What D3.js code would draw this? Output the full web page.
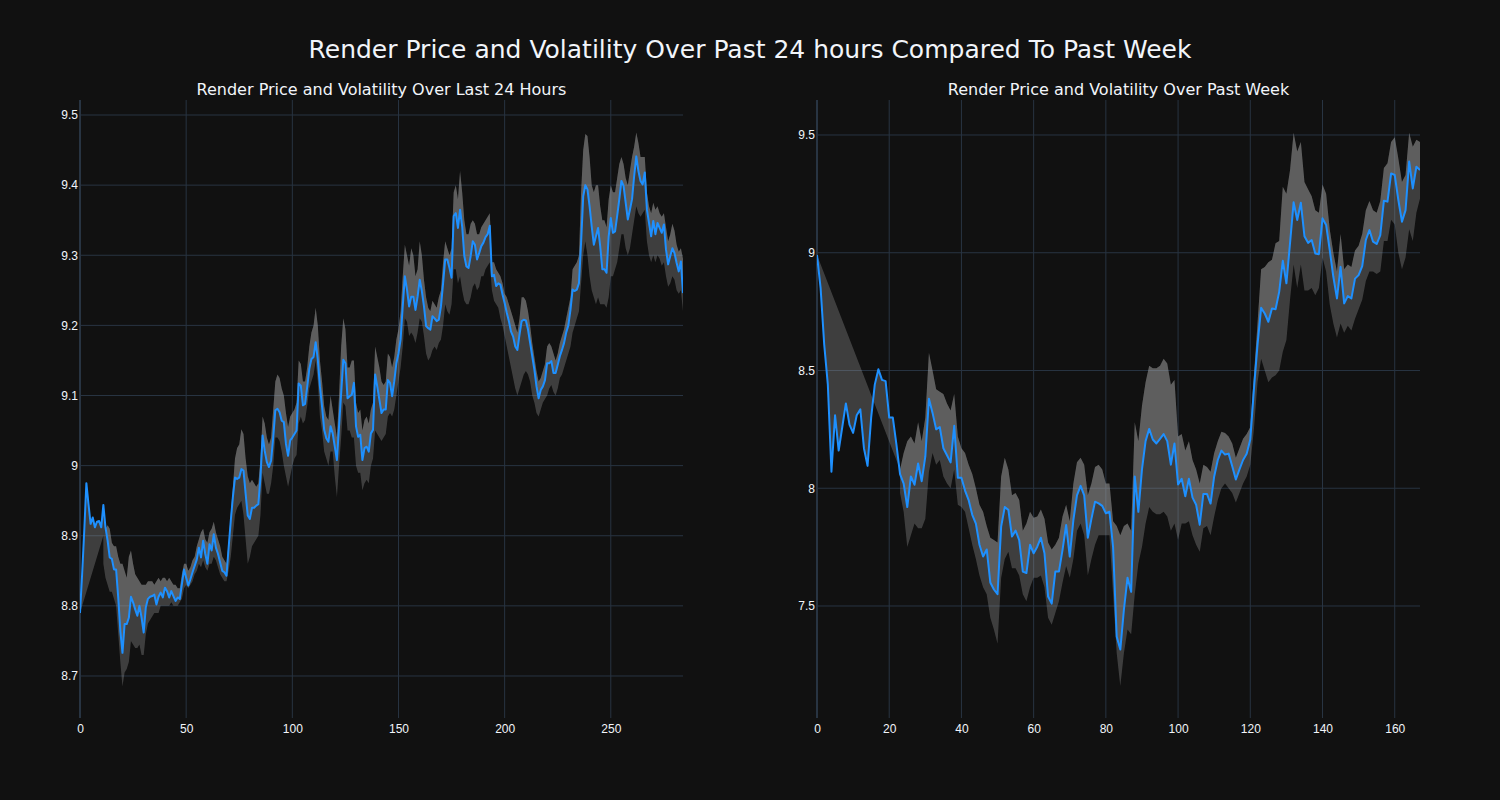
<!DOCTYPE html>
<html lang="en">
<head>
<meta charset="UTF-8">
<title>Render Price and Volatility</title>
<script src="https://d3js.org/d3.v7.min.js"></script>
<style>
    html, body { margin: 0; padding: 0; background: #111111; }
    svg { display: block; font-family: "DejaVu Sans", sans-serif; }
    .tick text { fill: #f2f5fa; font-size: 12px; }
</style>
</head>
<body>
<svg id="chart" width="1500" height="800"></svg>
<script>
// last 24 hours, 5 minute steps
const dayPrice = [
    8.79, 8.845, 8.907, 8.975, 8.945, 8.917, 8.926, 8.912, 8.92, 8.921,
    8.912, 8.944, 8.912, 8.893, 8.869, 8.867, 8.852, 8.852, 8.812, 8.764,
    8.733, 8.774, 8.774, 8.783, 8.813, 8.805, 8.795, 8.786, 8.8, 8.783,
    8.762, 8.798, 8.81, 8.813, 8.814, 8.816, 8.802, 8.813, 8.819, 8.812,
    8.826, 8.821, 8.812, 8.821, 8.814, 8.807, 8.812, 8.81, 8.831, 8.852,
    8.84, 8.829, 8.838, 8.848, 8.857, 8.866, 8.883, 8.869, 8.893, 8.874,
    8.86, 8.888, 8.879, 8.902, 8.883, 8.874, 8.862, 8.85, 8.848, 8.843,
    8.883, 8.921, 8.955, 8.983, 8.981, 8.983, 8.995, 8.993, 8.96, 8.929,
    8.924, 8.94, 8.94, 8.943, 8.945, 8.983, 9.043, 9.021, 9.005, 8.998,
    9.007, 9.04, 9.079, 9.081, 9.076, 9.064, 9.062, 9.031, 9.014, 9.036,
    9.04, 9.045, 9.05, 9.117, 9.114, 9.086, 9.088, 9.112, 9.138, 9.152,
    9.155, 9.176, 9.151, 9.113, 9.084, 9.051, 9.039, 9.034, 9.056, 9.046,
    9.027, 9.008, 9.056, 9.103, 9.151, 9.146, 9.096, 9.099, 9.101, 9.118,
    9.056, 9.041, 9.044, 9.008, 9.025, 9.027, 9.02, 9.046, 9.051, 9.13,
    9.113, 9.094, 9.075, 9.08, 9.08, 9.122, 9.118, 9.099, 9.12, 9.146,
    9.16, 9.18, 9.227, 9.27, 9.251, 9.227, 9.241, 9.241, 9.222, 9.241,
    9.265, 9.249, 9.227, 9.199, 9.196, 9.194, 9.213, 9.21, 9.206, 9.208,
    9.227, 9.26, 9.294, 9.294, 9.282, 9.268, 9.356, 9.36, 9.339, 9.365,
    9.341, 9.299, 9.284, 9.282, 9.299, 9.32, 9.315, 9.294, 9.303, 9.313,
    9.318, 9.326, 9.33, 9.342, 9.27, 9.272, 9.256, 9.26, 9.258, 9.244,
    9.232, 9.218, 9.206, 9.191, 9.184, 9.17, 9.165, 9.187, 9.206, 9.208,
    9.207, 9.194, 9.175, 9.156, 9.137, 9.113, 9.096, 9.108, 9.113, 9.122,
    9.146, 9.146, 9.149, 9.132, 9.132, 9.144, 9.156, 9.165, 9.175, 9.19,
    9.2, 9.222, 9.251, 9.249, 9.251, 9.26, 9.318, 9.384, 9.4, 9.394,
    9.37, 9.341, 9.315, 9.327, 9.339, 9.313, 9.28, 9.28, 9.275, 9.327,
    9.353, 9.332, 9.334, 9.356, 9.38, 9.406, 9.399, 9.375, 9.351, 9.365,
    9.38, 9.413, 9.441, 9.42, 9.406, 9.401, 9.418, 9.365, 9.346, 9.327,
    9.349, 9.33, 9.346, 9.339, 9.332, 9.344, 9.308, 9.287, 9.299, 9.31,
    9.303, 9.289, 9.277, 9.291, 9.246
];
const dayUpper = [
    null, null, null, null, null, null, null, null, null, null,
    null, 8.90, 8.91, 8.915, 8.91, 8.89, 8.885, 8.885, 8.87, 8.86,
    8.86, 8.85, 8.84, 8.87, 8.879, 8.86, 8.845, 8.84, 8.835, 8.83,
    8.83, 8.83, 8.835, 8.835, 8.835, 8.83, 8.835, 8.84, 8.835, 8.84,
    8.84, 8.835, 8.84, 8.835, 8.83, 8.83, 8.825, 8.825, 8.845, 8.86,
    8.86, 8.85, 8.855, 8.865, 8.87, 8.885, 8.895, 8.905, 8.91, 8.895,
    8.89, 8.905, 8.91, 8.92, 8.905, 8.895, 8.885, 8.87, 8.865, 8.86,
    8.89, 8.93, 8.97, 9.01, 9.025, 9.03, 9.052, 9.045, 9.01, 8.985,
    8.975, 8.98, 8.975, 8.97, 8.975, 9.01, 9.07, 9.06, 9.04, 9.03,
    9.04, 9.08, 9.12, 9.13, 9.125, 9.11, 9.10, 9.075, 9.055, 9.07,
    9.075, 9.08, 9.09, 9.15, 9.145, 9.12, 9.12, 9.14, 9.17, 9.19,
    9.2, 9.225, 9.2, 9.15, 9.12, 9.085, 9.07, 9.065, 9.10, 9.08,
    9.06, 9.04, 9.10, 9.17, 9.21, 9.195, 9.14, 9.14, 9.15, 9.15,
    9.09, 9.075, 9.08, 9.05, 9.065, 9.07, 9.06, 9.08, 9.09, 9.17,
    9.155, 9.14, 9.12, 9.115, 9.12, 9.16, 9.155, 9.14, 9.155, 9.18,
    9.195, 9.22, 9.27, 9.315, 9.30, 9.285, 9.31, 9.30, 9.27, 9.28,
    9.32, 9.30, 9.265, 9.24, 9.225, 9.22, 9.235, 9.23, 9.225, 9.24,
    9.25, 9.29, 9.32, 9.31, 9.30, 9.31, 9.39, 9.40, 9.38, 9.42,
    9.39, 9.35, 9.33, 9.33, 9.345, 9.35, 9.345, 9.33, 9.33, 9.34,
    9.345, 9.35, 9.355, 9.36, 9.29, 9.29, 9.28, 9.275, 9.27, 9.26,
    9.245, 9.24, 9.23, 9.22, 9.21, 9.20, 9.19, 9.21, 9.24, 9.24,
    9.235, 9.22, 9.20, 9.175, 9.155, 9.135, 9.12, 9.125, 9.135, 9.145,
    9.17, 9.175, 9.17, 9.16, 9.15, 9.16, 9.175, 9.185, 9.195, 9.21,
    9.225, 9.24, 9.28, 9.285, 9.29, 9.30, 9.39, 9.45, 9.473, 9.47,
    9.44, 9.40, 9.39, 9.40, 9.40, 9.37, 9.35, 9.35, 9.34, 9.38,
    9.40, 9.39, 9.39, 9.41, 9.43, 9.44, 9.43, 9.41, 9.40, 9.42,
    9.44, 9.455, 9.475, 9.46, 9.44, 9.44, 9.44, 9.39, 9.37, 9.36,
    9.375, 9.365, 9.37, 9.36, 9.355, 9.36, 9.34, 9.32, 9.33, 9.345,
    9.335, 9.315, 9.305, 9.31, 9.295
];
const dayLower = [
    null, null, null, null, null, null, null, null, null, null,
    null, 8.86, 8.84, 8.83, 8.82, 8.82, 8.81, 8.80, 8.76, 8.72,
    8.685, 8.705, 8.71, 8.72, 8.75, 8.745, 8.74, 8.74, 8.745, 8.73,
    8.73, 8.76, 8.775, 8.78, 8.785, 8.79, 8.79, 8.79, 8.80, 8.80,
    8.80, 8.80, 8.80, 8.805, 8.80, 8.80, 8.80, 8.805, 8.81, 8.825,
    8.83, 8.825, 8.83, 8.835, 8.845, 8.85, 8.86, 8.855, 8.865, 8.855,
    8.85, 8.86, 8.86, 8.87, 8.865, 8.855, 8.845, 8.84, 8.835, 8.835,
    8.85, 8.87, 8.90, 8.93, 8.94, 8.945, 8.95, 8.93, 8.895, 8.86,
    8.87, 8.885, 8.89, 8.895, 8.90, 8.93, 8.99, 8.975, 8.96, 8.96,
    8.975, 9.00, 9.04, 9.04, 9.035, 9.02, 9.00, 8.985, 8.97, 8.985,
    9.0, 9.01, 9.015, 9.06, 9.07, 9.06, 9.065, 9.085, 9.11, 9.12,
    9.13, 9.15, 9.12, 9.07, 9.05, 9.02, 9.01, 9.0, 9.02, 9.02,
    8.985, 8.955, 9.0, 9.04, 9.09, 9.085, 9.05, 9.05, 9.04, 9.04,
    9.0, 8.99, 8.99, 8.965, 8.975, 8.98, 8.975, 9.0, 9.01, 9.05,
    9.045, 9.04, 9.035, 9.04, 9.045, 9.07, 9.075, 9.07, 9.08, 9.10,
    9.12, 9.14, 9.17, 9.21, 9.205, 9.185, 9.19, 9.185, 9.175, 9.19,
    9.21, 9.205, 9.185, 9.16, 9.15, 9.155, 9.165, 9.17, 9.165, 9.175,
    9.18, 9.20, 9.23, 9.22, 9.215, 9.23, 9.28, 9.28, 9.26, 9.27,
    9.25, 9.235, 9.23, 9.23, 9.24, 9.255, 9.26, 9.25, 9.255, 9.27,
    9.27, 9.28, 9.285, 9.29, 9.25, 9.235, 9.23, 9.225, 9.21, 9.20,
    9.185, 9.17, 9.155, 9.14, 9.125, 9.11, 9.10, 9.11, 9.12, 9.13,
    9.135, 9.13, 9.12, 9.10, 9.09, 9.075, 9.07, 9.08, 9.09, 9.095,
    9.10, 9.11, 9.115, 9.105, 9.10, 9.11, 9.125, 9.13, 9.14, 9.15,
    9.16, 9.17, 9.19, 9.20, 9.21, 9.22, 9.26, 9.30, 9.32, 9.30,
    9.27, 9.25, 9.24, 9.23, 9.24, 9.23, 9.23, 9.23, 9.225, 9.24,
    9.27, 9.27, 9.28, 9.29, 9.31, 9.33, 9.33, 9.31, 9.30, 9.31,
    9.33, 9.35, 9.37, 9.36, 9.355, 9.36, 9.365, 9.32, 9.30, 9.29,
    9.30, 9.29, 9.30, 9.295, 9.285, 9.29, 9.27, 9.255, 9.26, 9.27,
    9.265, 9.25, 9.245, 9.25, 9.22
];

// past week, hourly
const weekPrice = [
    8.99, 8.85, 8.61, 8.44, 8.07, 8.31, 8.16, 8.26, 8.36, 8.27,
    8.235, 8.31, 8.335, 8.17, 8.095, 8.30, 8.44, 8.505, 8.46, 8.455,
    8.30, 8.30, 8.185, 8.06, 8.02, 7.92, 8.05, 8.015, 8.105, 8.03,
    8.135, 8.38, 8.32, 8.25, 8.26, 8.17, 8.14, 8.11, 8.265, 8.045,
    8.045, 7.99, 7.95, 7.887, 7.85, 7.76, 7.71, 7.74, 7.60, 7.57,
    7.55, 7.837, 7.92, 7.908, 7.795, 7.82, 7.78, 7.646, 7.64, 7.76,
    7.724, 7.752, 7.79, 7.724, 7.54, 7.51, 7.646, 7.646, 7.738, 7.844,
    7.71, 7.865, 7.97, 8.01, 7.97, 7.79, 7.87, 7.943, 7.936, 7.925,
    7.894, 7.90, 7.75, 7.37, 7.315, 7.485, 7.62, 7.56, 8.05, 7.90,
    8.08, 8.20, 8.252, 8.207, 8.19, 8.21, 8.23, 8.20, 8.10, 8.19,
    8.016, 8.04, 7.966, 8.04, 7.96, 7.93, 7.845, 7.976, 7.976, 7.935,
    8.05, 8.12, 8.16, 8.143, 8.147, 8.093, 8.037, 8.08, 8.12, 8.146,
    8.207, 8.42, 8.61, 8.766, 8.742, 8.707, 8.763, 8.76, 8.834, 8.966,
    8.87, 9.04, 9.214, 9.139, 9.212, 9.07, 9.042, 9.054, 8.997, 8.994,
    9.146, 9.118, 9.011, 8.898, 8.806, 8.94, 8.785, 8.816, 8.806, 8.89,
    8.905, 8.943, 9.054, 9.096, 9.047, 9.037, 9.075, 9.221, 9.217, 9.337,
    9.33, 9.224, 9.132, 9.181, 9.387, 9.273, 9.365, 9.351
];
const weekUpper = [
    null, null, null, null, null, null, null, null, null, null,
    null, null, null, null, null, null, null, null, null, null,
    null, null, null, 8.08, 8.15, 8.20, 8.22, 8.19, 8.28, 8.20,
    8.30, 8.575, 8.50, 8.42, 8.41, 8.40, 8.36, 8.33, 8.40, 8.22,
    8.17, 8.15, 8.10, 8.06, 8.00, 7.93, 7.90, 7.84, 7.79, 7.78,
    7.77, 8.05, 8.13, 8.08, 7.97, 7.98, 7.95, 7.82, 7.85, 7.90,
    7.875, 7.88, 7.91, 7.87, 7.77, 7.74, 7.76, 7.79, 7.88, 7.93,
    7.86, 8.02, 8.11, 8.13, 8.10, 7.97, 8.02, 8.09, 8.10, 8.08,
    8.02, 8.02, 7.86, 7.84, 7.80, 7.84, 7.85, 7.82, 8.28, 8.20,
    8.35, 8.45, 8.52, 8.51, 8.51, 8.52, 8.55, 8.53, 8.44, 8.46,
    8.22, 8.23, 8.16, 8.20, 8.12, 8.08, 8.02, 8.10, 8.09, 8.07,
    8.15, 8.20, 8.24, 8.235, 8.22, 8.19, 8.13, 8.17, 8.21, 8.23,
    8.26, 8.48, 8.70, 8.93, 8.94, 8.96, 8.97, 9.04, 9.05, 9.28,
    9.25, 9.35, 9.51, 9.43, 9.47, 9.30, 9.27, 9.24, 9.18, 9.17,
    9.29, 9.25, 9.10, 9.00, 8.92, 9.08, 8.93, 8.95, 8.94, 9.01,
    9.03, 9.08, 9.18, 9.22, 9.18, 9.17, 9.22, 9.36, 9.38, 9.47,
    9.49, 9.40, 9.30, 9.33, 9.51, 9.45, 9.48, 9.47
];
const weekLower = [
    null, null, null, null, null, null, null, null, null, null,
    null, null, null, null, null, null, null, null, null, null,
    null, null, null, 7.98, 7.90, 7.75, 7.80, 7.85, 7.83, 7.83,
    7.87, 8.07, 8.15, 8.10, 8.12, 8.05, 8.02, 8.0, 8.08, 7.93,
    7.92, 7.90, 7.83, 7.76, 7.70, 7.63, 7.58, 7.55, 7.45, 7.40,
    7.34, 7.62, 7.70, 7.73, 7.66, 7.66, 7.63, 7.55, 7.52, 7.58,
    7.62, 7.62, 7.63, 7.58, 7.45, 7.42, 7.47, 7.52, 7.60, 7.67,
    7.62, 7.70, 7.82, 7.85, 7.80, 7.63, 7.70, 7.76, 7.80, 7.80,
    7.80, 7.80, 7.55, 7.30, 7.16, 7.30, 7.40, 7.38, 7.55, 7.68,
    7.75, 7.85, 7.92, 7.90, 7.89, 7.89, 7.90, 7.88, 7.82, 7.85,
    7.78, 7.85, 7.85, 7.86, 7.80, 7.76, 7.73, 7.83, 7.84, 7.80,
    7.88, 7.95, 8.00, 8.02, 8.00, 7.98, 7.94, 7.98, 8.02, 8.05,
    8.10, 8.25, 8.45, 8.55, 8.50, 8.45, 8.47, 8.48, 8.50, 8.58,
    8.63, 8.80, 8.95, 8.85, 8.95, 8.84, 8.84, 8.85, 8.82, 8.85,
    8.98, 8.92, 8.78, 8.70, 8.64, 8.70, 8.66, 8.69, 8.67, 8.72,
    8.76, 8.80, 8.88, 8.92, 8.92, 8.91, 8.92, 9.05, 9.05, 9.14,
    9.12, 9.0, 8.93, 8.98, 9.10, 9.05, 9.17, 9.23
];

const dayXTicks = [0, 50, 100, 150, 200, 250];
const dayYTicks = [8.7, 8.8, 8.9, 9, 9.1, 9.2, 9.3, 9.4, 9.5];
const weekXTicks = [0, 20, 40, 60, 80, 100, 120, 140, 160];
const weekYTicks = [7.5, 8, 8.5, 9, 9.5];

const mainTitle = "Render Price and Volatility Over Past 24 hours Compared To Past Week";

const svg = d3.select("#chart");
const textColor = "#f2f5fa";
const gridColor = "#283442";
const bandFill = "rgba(169,169,169,0.3)";

svg.append("rect").attr("width", 1500).attr("height", 800).attr("fill", "#111111");

svg.append("text")
    .attr("x", 750).attr("y", 58)
    .attr("text-anchor", "middle")
    .attr("fill", textColor)
    .style("font-size", "25px")
    .text(mainTitle);

function drawPanel(p) {
    const x = d3.scaleLinear().domain([0, p.price.length - 1]).range([p.left, p.right]);
    const y = d3.scaleLinear().domain(p.yDomain).range([p.bottom, p.top]);
    const g = svg.append("g");

    // grid
    g.append("g").selectAll("line").data(p.yTicks).join("line")
        .attr("x1", p.left).attr("x2", p.right)
        .attr("y1", d => y(d)).attr("y2", d => y(d))
        .attr("stroke", gridColor).attr("stroke-width", 1);
    g.append("g").selectAll("line").data(p.xTicks).join("line")
        .attr("x1", d => x(d)).attr("x2", d => x(d))
        .attr("y1", p.top).attr("y2", p.bottom)
        .attr("stroke", gridColor).attr("stroke-width", d => d === 0 ? 2 : 1);

    const clipId = "clip-" + p.id;
    svg.append("clipPath").attr("id", clipId).append("rect")
        .attr("x", p.left).attr("y", p.top)
        .attr("width", p.right - p.left).attr("height", p.bottom - p.top);

    const plot = g.append("g").attr("clip-path", `url(#${clipId})`);
    const line = d3.line().x(d => x(d[0])).y(d => y(d[1]));

    const pricePts = p.price.map((v, i) => [i, v]);
    const upperPts = p.upper.map((v, i) => [i, v]).filter(d => d[1] != null);
    const lowerPts = p.lower.map((v, i) => [i, v]).filter(d => d[1] != null);

    // upper band filled back to the price trace, then lower band filled to upper
    plot.append("path")
        .attr("d", line(upperPts.concat(pricePts.slice().reverse())) + "Z")
        .attr("fill", bandFill);
    plot.append("path")
        .attr("d", line(upperPts.concat(lowerPts.slice().reverse())) + "Z")
        .attr("fill", bandFill);

    plot.append("path")
        .attr("d", line(pricePts))
        .attr("fill", "none")
        .attr("stroke", "#1e90ff")
        .attr("stroke-width", 2)
        .attr("stroke-linejoin", "round");

    // axes
    g.append("g")
        .attr("transform", `translate(0,${p.bottom})`)
        .call(d3.axisBottom(x).tickValues(p.xTicks).tickSize(0).tickPadding(6).tickFormat(d3.format("")))
        .call(a => a.select(".domain").remove());
    g.append("g")
        .attr("transform", `translate(${p.left},0)`)
        .call(d3.axisLeft(y).tickValues(p.yTicks).tickSize(0).tickPadding(2).tickFormat(d3.format("")))
        .call(a => a.select(".domain").remove());

    svg.append("text")
        .attr("x", (p.left + p.right) / 2).attr("y", 95)
        .attr("text-anchor", "middle")
        .attr("fill", textColor)
        .style("font-size", "16px")
        .text(p.title);
}

drawPanel({
    id: "day", left: 80, right: 683, top: 100, bottom: 718,
    price: dayPrice, upper: dayUpper, lower: dayLower,
    yDomain: [8.6401, 9.5214], xTicks: dayXTicks, yTicks: dayYTicks,
    title: "Render Price and Volatility Over Last 24 Hours"
});
drawPanel({
    id: "week", left: 817, right: 1420, top: 100, bottom: 718,
    price: weekPrice, upper: weekUpper, lower: weekLower,
    yDomain: [7.0244, 9.6486], xTicks: weekXTicks, yTicks: weekYTicks,
    title: "Render Price and Volatility Over Past Week"
});
</script>
</body>
</html>
